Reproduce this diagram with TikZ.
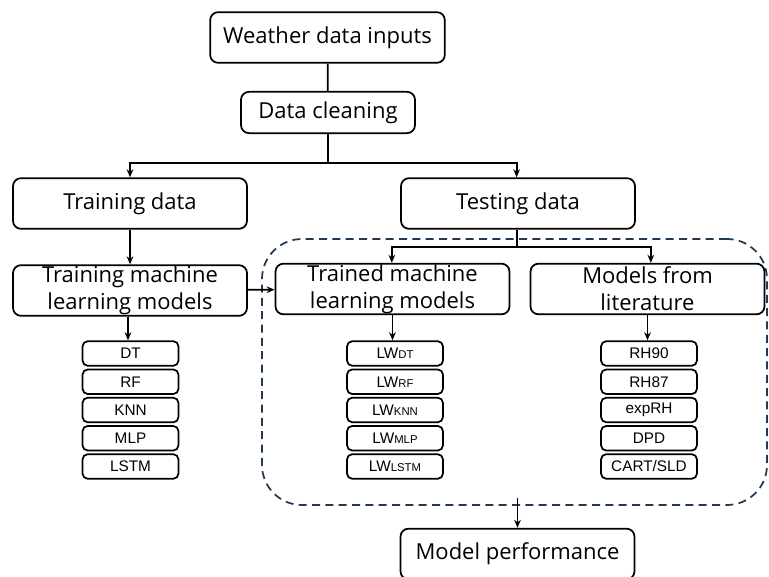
\documentclass[tikz,border=0pt]{standalone}
\usepackage{fontspec}
\setmainfont{Open Sans}
\newfontfamily\smallfont{Liberation Sans}
\usetikzlibrary{arrows.meta}
\definecolor{bordoblu}{RGB}{33,58,82}

\begin{document}
\begin{tikzpicture}[x=0.75pt, y=-0.75pt, line width=1.3pt, >={Stealth[length=6pt, width=5pt]}]
	% Styles for the boxes
	\tikzset{passo/.style={draw, rounded corners=6pt, minimum width=175.5pt, minimum height=38pt, inner sep=0pt, align=center, font=\fontsize{16.5}{20.2}\selectfont},
		modello/.style={draw, rounded corners=4pt, minimum width=72pt, minimum height=18.5pt, inner sep=0pt, font=\smallfont\fontsize{11.5}{13}\selectfont},
		gruppo/.style={draw=bordoblu, dashed, dash pattern=on 6pt off 4pt, rounded corners=30pt, minimum width=378.75pt, minimum height=199.5pt, inner sep=0pt}}
	\useasboundingbox (0,0) rectangle (769,577);
	
	% Dashed group round the testing side
	\node[gruppo] (gruppo) at (514.5,372) {};
	
	% Main steps
	\node[passo, minimum width=176pt] (meteo) at (327.5,37.5) {Weather data inputs};
	\node[passo, minimum width=130.5pt, minimum height=31pt] (pulizia) at (328,112.5) {Data cleaning};
	\node[passo] (train) at (130,203.5) {Training data};
	\node[passo] (test) at (518,203.5) {Testing data};
	\node[passo] (trainml) at (130,290.5) {Training machine\\learning models};
	\node[passo] (trained) at (392.5,289) {Trained machine\\learning models};
	\node[passo] (lett) at (647.5,289) {Models from\\literature};
	\node[passo] (perf) at (517.5,554) {Model performance};
	
	% Model lists
	\foreach \nome [count=\i] in {DT,RF,KNN,MLP,LSTM} {
		\node[modello] (ml\i) at (130.5,325.25+28.25*\i) {\nome};
		\node[modello] (lw\i) at (395,325.25+28.25*\i) {LW{\fontsize{8.5}{9}\selectfont\nome}};
	}
	\foreach \nome [count=\i] in {RH90,RH87,expRH,DPD,CART/SLD}
		\node[modello] (lit\i) at (649,325.25+28.25*\i) {\nome};
	
	% Connectors
	\coordinate (split1) at (pulizia.south |- 0,163);
	\coordinate (split2) at (517,247);
	\draw (meteo) -- (pulizia);
	\draw (pulizia) -- (split1);
	\draw[->] (split1) -| (train.north);
	\draw[->] (split1) -| ([xshift=-1pt]test.north);
	\draw[->] (train) -- (trainml);
	\draw (test.south -| split2) -- (split2);
	\draw[->] (split2) -| ([xshift=-0.5pt]trained.north);
	\draw[->] (split2) -| ([xshift=2.5pt]lett.north);
	\draw[->] (trainml) -- (trained);
	\draw[->] (trainml.south -| 128,0) -- (ml1.north -| 128,0);
	\draw[->] (trained) -- (trained |- lw1.north);
	\draw[->] (lett) -- (lett |- lit1.north);
	\draw[->] ([yshift=6pt]gruppo.south -| perf.north) -- (perf.north);
\end{tikzpicture}
\end{document}
